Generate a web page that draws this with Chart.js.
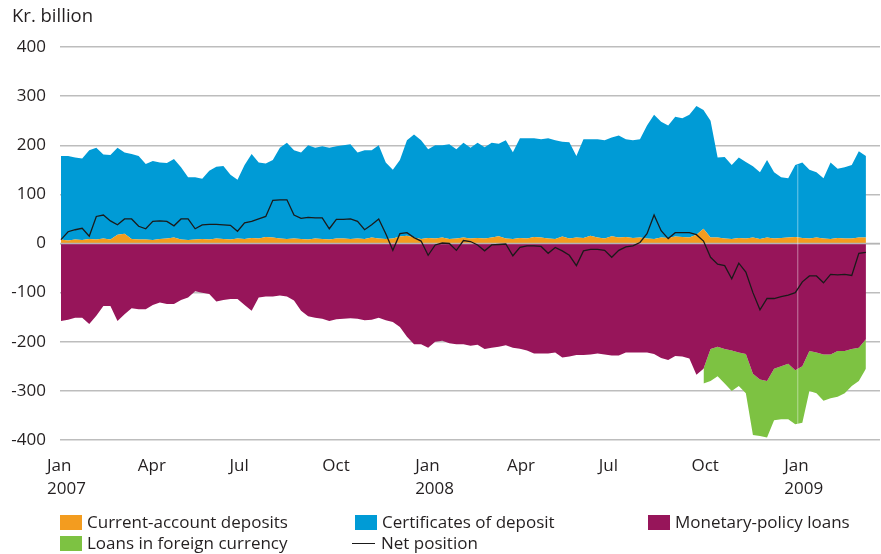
<!DOCTYPE html>
<html><head><meta charset="utf-8">
<script src="https://cdn.jsdelivr.net/npm/chart.js@4.4.0/dist/chart.umd.min.js"></script>
<style>
html,body{margin:0;padding:0;background:#fff;}
#wrap{position:relative;width:881px;height:554px;font-family:'Open Sans',sans-serif;color:#231f20;}
#title{position:absolute;left:12px;top:4px;font-size:18.5px;line-height:22px;}
.leg{position:absolute;font-size:17px;line-height:20px;white-space:nowrap;}
.sw{display:inline-block;width:22px;height:15px;vertical-align:-2px;margin-right:5px;}
.ln{display:inline-block;width:23px;height:0;border-top:1.5px solid #1a1a1a;vertical-align:5px;margin-right:6px;}
canvas{position:absolute;left:0;top:0;}
</style></head>
<body>
<div id="wrap">
<canvas id="c" width="881" height="554"></canvas>
<div id="title">Kr. billion</div>
<div class="leg" style="left:60px;top:512px"><span class="sw" style="background:#F39C1F"></span>Current-account deposits</div>
<div class="leg" style="left:355px;top:512px"><span class="sw" style="background:#009BD6"></span>Certificates of deposit</div>
<div class="leg" style="left:648px;top:512px"><span class="sw" style="background:#97155A"></span>Monetary-policy loans</div>
<div class="leg" style="left:60px;top:533px"><span class="sw" style="background:#7DC242"></span>Loans in foreign currency</div>
<div class="leg" style="left:352px;top:533px"><span class="ln"></span>Net position</div>
</div>
<script>
const dates = [
 '2007-01-02','2007-01-09','2007-01-16','2007-01-23','2007-01-30','2007-02-06','2007-02-13','2007-02-20','2007-02-27','2007-03-06',
 '2007-03-13','2007-03-20','2007-03-27','2007-04-03','2007-04-10','2007-04-17','2007-04-24','2007-05-01','2007-05-08','2007-05-15',
 '2007-05-22','2007-05-29','2007-06-05','2007-06-12','2007-06-19','2007-06-26','2007-07-03','2007-07-10','2007-07-17','2007-07-24',
 '2007-07-31','2007-08-07','2007-08-14','2007-08-21','2007-08-28','2007-09-04','2007-09-11','2007-09-18','2007-09-25','2007-10-02',
 '2007-10-09','2007-10-16','2007-10-23','2007-10-30','2007-11-06','2007-11-13','2007-11-20','2007-11-27','2007-12-04','2007-12-11',
 '2007-12-18','2007-12-25','2008-01-01','2008-01-08','2008-01-15','2008-01-22','2008-01-29','2008-02-05','2008-02-12','2008-02-19',
 '2008-02-26','2008-03-04','2008-03-11','2008-03-18','2008-03-25','2008-04-01','2008-04-08','2008-04-15','2008-04-22','2008-04-29',
 '2008-05-06','2008-05-13','2008-05-20','2008-05-27','2008-06-03','2008-06-10','2008-06-17','2008-06-24','2008-07-01','2008-07-08',
 '2008-07-15','2008-07-22','2008-07-29','2008-08-05','2008-08-12','2008-08-19','2008-08-26','2008-09-02','2008-09-09','2008-09-16',
 '2008-09-23','2008-09-30','2008-10-07','2008-10-14','2008-10-21','2008-10-28','2008-11-04','2008-11-11','2008-11-18','2008-11-25',
 '2008-12-02','2008-12-09','2008-12-16','2008-12-23','2008-12-30','2009-01-06','2009-01-13','2009-01-20','2009-01-27','2009-02-03',
 '2009-02-10','2009-02-17','2009-02-24','2009-03-03','2009-03-10'
];
const currentAccountDeposits = [
 8,6,8,7,9,8,10,8,18,20,
 9,8,8,7,9,10,12,8,7,8,
 9,8,10,9,8,10,9,11,10,13,
 12,10,9,10,9,8,10,9,8,10,
 10,9,10,9,12,10,9,10,14,16,
 12,9,11,10,12,9,10,12,10,11,
 10,12,15,10,9,11,10,13,12,10,
 9,14,10,12,11,16,12,10,15,12,
 13,11,12,10,9,12,11,14,13,12,
 18,30,12,12,10,9,11,10,12,9,
 12,10,11,12,13,11,10,12,10,9,
 11,10,10,12,12
];
const certificatesOfDeposit = [
 170,172,167,166,181,187,171,172,177,165,
 173,170,154,161,156,154,160,147,128,127,
 123,140,146,149,132,120,151,171,155,150,
 158,185,196,180,176,192,185,189,187,188,
 190,193,175,181,178,190,156,140,156,194,
 210,201,181,190,188,193,182,193,185,194,
 186,193,188,200,177,203,204,201,200,204,
 201,193,196,166,201,196,200,200,201,208,
 199,199,200,230,253,236,229,244,242,250,
 262,242,238,163,166,151,164,156,145,136,
 158,135,124,121,147,154,140,133,123,156,
 141,145,150,176,166
];
const monetaryPolicyLoans = [
 -158,-155,-151,-151,-164,-147,-127,-127,-158,-144,
 -132,-134,-134,-125,-120,-123,-123,-115,-110,-97,
 -100,-103,-118,-115,-113,-113,-125,-137,-110,-108,
 -108,-106,-108,-116,-137,-148,-151,-153,-158,-154,
 -153,-152,-153,-156,-155,-151,-156,-160,-170,-190,
 -205,-205,-212,-200,-198,-203,-205,-205,-208,-206,
 -215,-212,-210,-207,-212,-214,-218,-224,-224,-224,
 -222,-232,-230,-227,-227,-226,-224,-226,-228,-228,
 -222,-222,-222,-222,-225,-233,-237,-229,-230,-234,
 -267,-255,-215,-210,-215,-218,-222,-225,-265,-277,
 -280,-255,-250,-245,-258,-250,-219,-222,-226,-226,
 -219,-219,-215,-212,-195
];
const loansInForeignCurrency = [
 null,null,null,null,null,null,null,null,null,null,
 null,null,null,null,null,null,null,null,null,null,
 null,null,null,null,null,null,null,null,null,null,
 null,null,null,null,null,null,null,null,null,null,
 null,null,null,null,null,null,null,null,null,null,
 null,null,null,null,null,null,null,null,null,null,
 null,null,null,null,null,null,null,null,null,null,
 null,null,null,null,null,null,null,null,null,null,
 null,null,null,null,null,null,null,null,null,null,
 null,-30,-65,-60,-70,-82,-68,-80,-125,-115,
 -115,-105,-108,-113,-110,-115,-81,-83,-94,-89,
 -93,-86,-75,-68,-60
];
const netPosition = [
 8,24,28,31,15,55,58,46,38,50,
 50,35,30,45,46,45,36,50,50,30,
 38,39,39,38,37,25,42,45,50,55,
 88,89,89,58,51,53,52,52,30,49,
 49,50,45,28,38,50,20,-14,20,22,
 12,5,-24,-3,1,0,-14,6,4,-3,
 -15,-3,-2,-1,-25,-8,-5,-5,-6,-20,
 -8,-15,-24,-45,-15,-12,-12,-14,-28,-14,
 -7,-5,2,20,58,26,10,22,22,22,
 18,5,-28,-42,-45,-72,-40,-58,-100,-135,
 -112,-112,-108,-105,-100,-78,-66,-66,-80,-63,
 -64,-63,-65,-20,-18
];
const yTickValues = [-400,-300,-200,-100,0,100,200,300,400];
const monthTickDates = ['2007-01-01','2007-04-01','2007-07-01','2007-10-01','2008-01-01','2008-04-01','2008-07-01','2008-10-01','2009-01-01'];
const monthTickLabels = [['Jan','2007'],['Apr'],['Jul'],['Oct'],['Jan','2008'],['Apr'],['Jul'],['Oct'],['Jan','2009']];

const ORIGIN = Date.UTC(2007,0,1);
function dayNum(s){ const p = s.split('-').map(Number); return (Date.UTC(p[0],p[1]-1,p[2]) - ORIGIN)/86400000; }
const xs = dates.map(dayNum);
const tickDays = monthTickDates.map(dayNum);
const pts = arr => arr.map((v,i)=>({x:xs[i], y:v}));

const FONT = "'Open Sans', sans-serif";
const TXT = '#231f20';

// thin light seam at the year boundary (Jan 2009), as in the reference
const yearSeam = {
  id:'yearSeam',
  beforeDatasetDraw(chart, args){
    if (args.index !== 4) return;
    const {ctx, chartArea, scales} = chart;
    const y0 = scales.y.getPixelForValue(0);
    ctx.save();
    ctx.strokeStyle = '#b5b5b5'; ctx.lineWidth = 1.5;
    ctx.beginPath(); ctx.moveTo(chartArea.left, y0); ctx.lineTo(chartArea.right, y0); ctx.stroke();
    const xd = dayNum('2009-01-01');
    let i = xs.findIndex(v => v > xd) - 1;
    const top = currentAccountDeposits[i] + certificatesOfDeposit[i];
    const bot = monetaryPolicyLoans[i] + (loansInForeignCurrency[i] || 0);
    const xp = scales.x.getPixelForValue(xd);
    ctx.strokeStyle = 'rgba(255,255,255,0.45)'; ctx.lineWidth = 1;
    ctx.beginPath(); ctx.moveTo(xp + 0.5, scales.y.getPixelForValue(top)); ctx.lineTo(xp + 0.5, scales.y.getPixelForValue(bot)); ctx.stroke();
    ctx.restore();
  }
};

new Chart(document.getElementById('c'), {
  type:'line',
  data:{ datasets:[
    {label:'Current-account deposits', data:pts(currentAccountDeposits), stack:'pos', backgroundColor:'#F39C1F', borderWidth:0, fill:'origin', order:1},
    {label:'Certificates of deposit', data:pts(certificatesOfDeposit), stack:'pos', backgroundColor:'#009BD6', borderWidth:0, fill:'-1', order:1},
    {label:'Monetary-policy loans', data:pts(monetaryPolicyLoans), stack:'neg', backgroundColor:'#97155A', borderWidth:0, fill:'origin', order:1},
    {label:'Loans in foreign currency', data:pts(loansInForeignCurrency), stack:'neg', backgroundColor:'#7DC242', borderWidth:0, fill:'-1', order:1},
    {label:'Net position', data:pts(netPosition), stack:'net', borderColor:'#1a1a1a', borderWidth:1.3, fill:false, order:0}
  ]},
  options:{
    responsive:false, animation:false, devicePixelRatio:1,
    layout:{padding:{top:47, right:1, bottom:0, left:0}},
    elements:{point:{radius:0}, line:{tension:0}},
    plugins:{legend:{display:false}, tooltip:{enabled:false}},
    scales:{
      x:{type:'linear', min:0, max:813,
        grid:{display:false, drawTicks:false}, border:{display:false},
        afterBuildTicks:s=>{ s.ticks = tickDays.map(v=>({value:v})); },
        afterFit:s=>{ s.height = 114; },
        ticks:{autoSkip:false, maxRotation:0, minRotation:0, align:'start', labelOffset:-13, padding:15,
          color:TXT, font:{family:FONT, size:17, lineHeight:1.35},
          callback:(v)=>{ const i = tickDays.indexOf(v); return i>=0 ? monthTickLabels[i] : ''; }}
      },
      y:{stacked:true, min:-400, max:400,
        grid:{color:'#bdbdbd', lineWidth:1.5, drawTicks:false}, border:{display:false},
        afterBuildTicks:s=>{ s.ticks = yTickValues.map(v=>({value:v})); },
        afterFit:s=>{ s.width = 60; },
        ticks:{padding:14, color:TXT, font:{family:FONT, size:17}}
      }
    }
  },
  plugins:[yearSeam]
});
</script>
</body></html>
